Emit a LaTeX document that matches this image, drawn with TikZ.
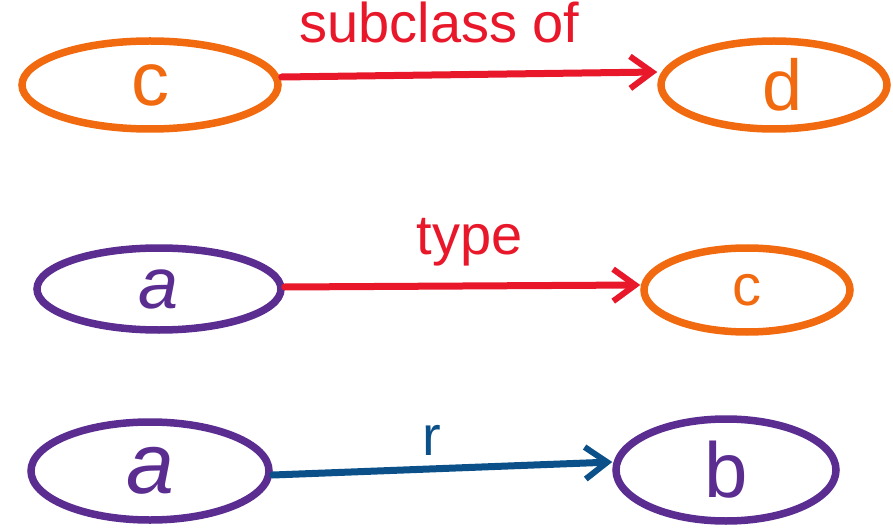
\documentclass[tikz,border=0pt]{standalone}
\usepackage{fontspec}
\setmainfont{Liberation Sans}
\usetikzlibrary{shapes.geometric,arrows.meta}
\definecolor{hOrange}{RGB}{242,106,16}
\definecolor{hRed}{RGB}{232,23,42}
\definecolor{hPurple}{RGB}{91,45,144}
\definecolor{hBlue}{RGB}{11,80,136}
\tikzset{
  blob/.style={draw, ellipse, line width=7.5pt, inner sep=0pt},
  orangeblob/.style={blob, draw=hOrange, text=hOrange},
  purpleblob/.style={blob, draw=hPurple, text=hPurple},
  link/.style={line width=7pt, line cap=round, -{Straight Barb[length=22pt,width=32pt,line width=6pt]}},
  lbl/.style={inner sep=0pt, font=\fontsize{56}{56}\selectfont}
}
\begin{document}
\begin{tikzpicture}[x=1pt,y=-1pt]
\useasboundingbox (0,0) rectangle (893,529);
% row 1
\node[orangeblob, minimum width=256pt, minimum height=88pt, font=\fontsize{76}{76}\selectfont] (c1) at (150,85) {c};
\node[orangeblob, minimum width=226pt, minimum height=88pt, font=\fontsize{72}{72}\selectfont] (d1) at (774,85) {\hspace*{18pt}d};
\draw[link, hRed] ([yshift=8pt]c1.east) -- ([yshift=13pt]d1.west) node[pos=0.42, above=28pt, lbl, text=hRed] (l1) {subclass of};
% row 2
\node[purpleblob, minimum width=244pt, minimum height=82pt, font=\fontsize{72}{72}\selectfont\itshape] (a1) at (159,289) {a};
\node[orangeblob, minimum width=206pt, minimum height=84pt, font=\fontsize{58}{58}\selectfont] (c2) at (747,290) {c};
\draw[link, hRed] ([yshift=2pt]a1.east) -- ([yshift=5pt]c2.west) node[pos=0.52, above=16pt, lbl, text=hRed] (l2) {type};
% row 3
\node[purpleblob, minimum width=238pt, minimum height=98pt, font=\fontsize{86}{86}\selectfont\itshape] (a2) at (150,471) {a};
\node[purpleblob, minimum width=220pt, minimum height=102pt, font=\fontsize{78}{78}\selectfont] (b2) at (726,470) {b};
\draw[link, hBlue] ([yshift=-4pt]a2.east) -- ([yshift=8pt]b2.west) node[pos=0.47, above=10pt, lbl, text=hBlue] (l3) {r};
\end{tikzpicture}
\end{document}
